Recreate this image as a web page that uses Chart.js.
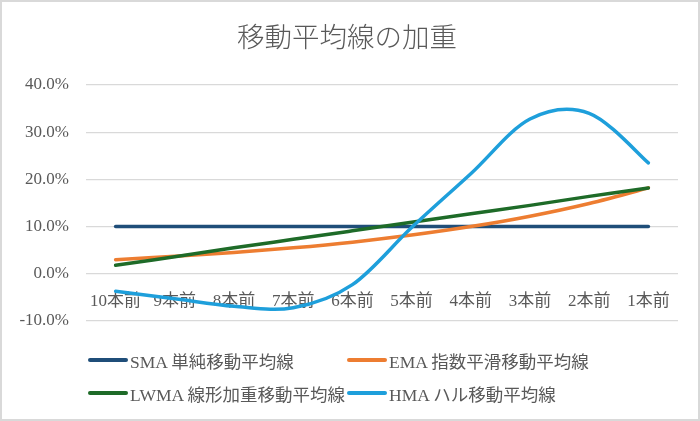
<!DOCTYPE html>
<html>
<head>
<meta charset="utf-8">
<script src="https://cdn.jsdelivr.net/npm/chart.js@4/dist/chart.umd.min.js"></script>
<style>
  html, body { margin: 0; padding: 0; background: #fff; }
  #wrap { position: relative; width: 700px; height: 421px; overflow: hidden; }
  #frame { position: absolute; left: 0; top: 0; width: 700px; height: 421px; box-sizing: border-box; border: 2px solid #d9d9d9; pointer-events: none; }
  canvas { position: absolute; left: 0; top: 0; }
  .lg { position: absolute; display: flex; align-items: center; height: 22px; white-space: nowrap;
        font-family: 'Liberation Serif', 'Noto Sans CJK JP', serif; font-size: 17.5px; color: #595959; }
  .lg .sw { display: inline-block; width: 40px; height: 4px; border-radius: 2px; margin-right: 2px; }
</style>
</head>
<body>
<div id="wrap">
  <canvas id="c" width="700" height="421"></canvas>
  <div id="legend"></div>
  <div id="frame"></div>
</div>
<script>
const titleText = '移動平均線の加重';
const categories = ['10本前', '9本前', '8本前', '7本前', '6本前', '5本前', '4本前', '3本前', '2本前', '1本前'];
const seriesNames = ['SMA 単純移動平均線', 'EMA 指数平滑移動平均線', 'LWMA 線形加重移動平均線', 'HMA ハル移動平均線'];
const smaValues  = [10.0, 10.0, 10.0, 10.0, 10.0, 10.0, 10.0, 10.0, 10.0, 10.0];
const emaValues  = [3.0, 3.7, 4.5, 5.5, 6.7, 8.2, 10.0, 12.2, 14.9, 18.2];
const lwmaValues = [1.8, 3.6, 5.5, 7.3, 9.1, 10.9, 12.7, 14.5, 16.4, 18.2];
const hmaValues  = [-3.7, -5.3, -6.9, -7.2, -2.3, 9.8, 21.2, 32.8, 34.0, 23.5];
const yTicks = [-10, 0, 10, 20, 30, 40];

const colors = ['#1f4e79', '#ed7d31', '#1e6b28', '#1e9fdb'];
const FONT = "'Liberation Serif', 'Noto Sans CJK JP', serif";
const TXT = '#595959';

const allValues = [smaValues, emaValues, lwmaValues, hmaValues];
const datasets = allValues.map((vals, i) => ({
  label: seriesNames[i],
  data: vals,
  borderColor: colors[i],
  backgroundColor: colors[i],
  borderWidth: 3.5,
  pointRadius: 0,
  tension: 0.4,
  fill: false,
  order: 4 - i,
  borderCapStyle: 'round'
}));

// Excel-like smoothing: uniform Catmull-Rom control points on the library-placed points
const smoothPlugin = {
  id: 'excelSmooth',
  beforeDatasetDraw(chart, args) {
    const meta = args.meta;
    const line = meta.dataset;
    if (!line || !line.updateControlPoints) return;
    line.updateControlPoints(chart.chartArea, meta.indexAxis);
    const pts = meta.data;
    const n = pts.length;
    for (let i = 0; i < n; i++) {
      const p = pts[i];
      const prev = pts[Math.max(i - 1, 0)];
      const next = pts[Math.min(i + 1, n - 1)];
      const dx = (next.x - prev.x) / 6;
      const dy = (next.y - prev.y) / 6;
      p.cp1x = p.x - dx; p.cp1y = p.y - dy;
      p.cp2x = p.x + dx; p.cp2y = p.y + dy;
    }
  }
};

const chart = new Chart(document.getElementById('c'), {
  type: 'line',
  data: { labels: categories, datasets },
  plugins: [smoothPlugin],
  options: {
    responsive: false,
    animation: false,
    devicePixelRatio: 1,
    layout: { padding: { left: 16, right: 22, top: 0, bottom: 100 } },
    plugins: {
      legend: { display: false },
      tooltip: { enabled: false },
      title: {
        display: true, text: titleText, color: TXT,
        font: { family: FONT, size: 27.5, weight: 300 },
        padding: { top: 23, bottom: 29 }
      }
    },
    scales: {
      x: {
        position: { y: 0 },
        offset: true,
        grid: { display: false, drawTicks: false },
        border: { display: false },
        ticks: { color: TXT, font: { family: FONT, size: 17 }, padding: 18, maxRotation: 0, autoSkip: false }
      },
      y: {
        min: yTicks[0], max: yTicks[yTicks.length - 1],
        afterBuildTicks: s => { s.ticks = yTicks.map(v => ({ value: v })); },
        afterFit: s => { s.width = 70; },
        grid: { color: '#d9d9d9', lineWidth: 1.3, drawTicks: false },
        border: { display: false },
        ticks: { color: TXT, font: { family: FONT, size: 17 }, padding: 17, callback: v => v.toFixed(1) + '%' }
      }
    }
  }
});

// HTML legend in two columns
const lg = document.getElementById('legend');
const colX = [88, 347];
const rowY = [349, 382];
chart.data.datasets.forEach((ds, i) => {
  const d = document.createElement('div');
  d.className = 'lg';
  d.style.left = colX[i % 2] + 'px';
  d.style.top = rowY[Math.floor(i / 2)] + 'px';
  const sw = document.createElement('span');
  sw.className = 'sw';
  sw.style.background = ds.borderColor;
  const t = document.createElement('span');
  t.textContent = ds.label;
  d.appendChild(sw); d.appendChild(t);
  lg.appendChild(d);
});
</script>
</body>
</html>
